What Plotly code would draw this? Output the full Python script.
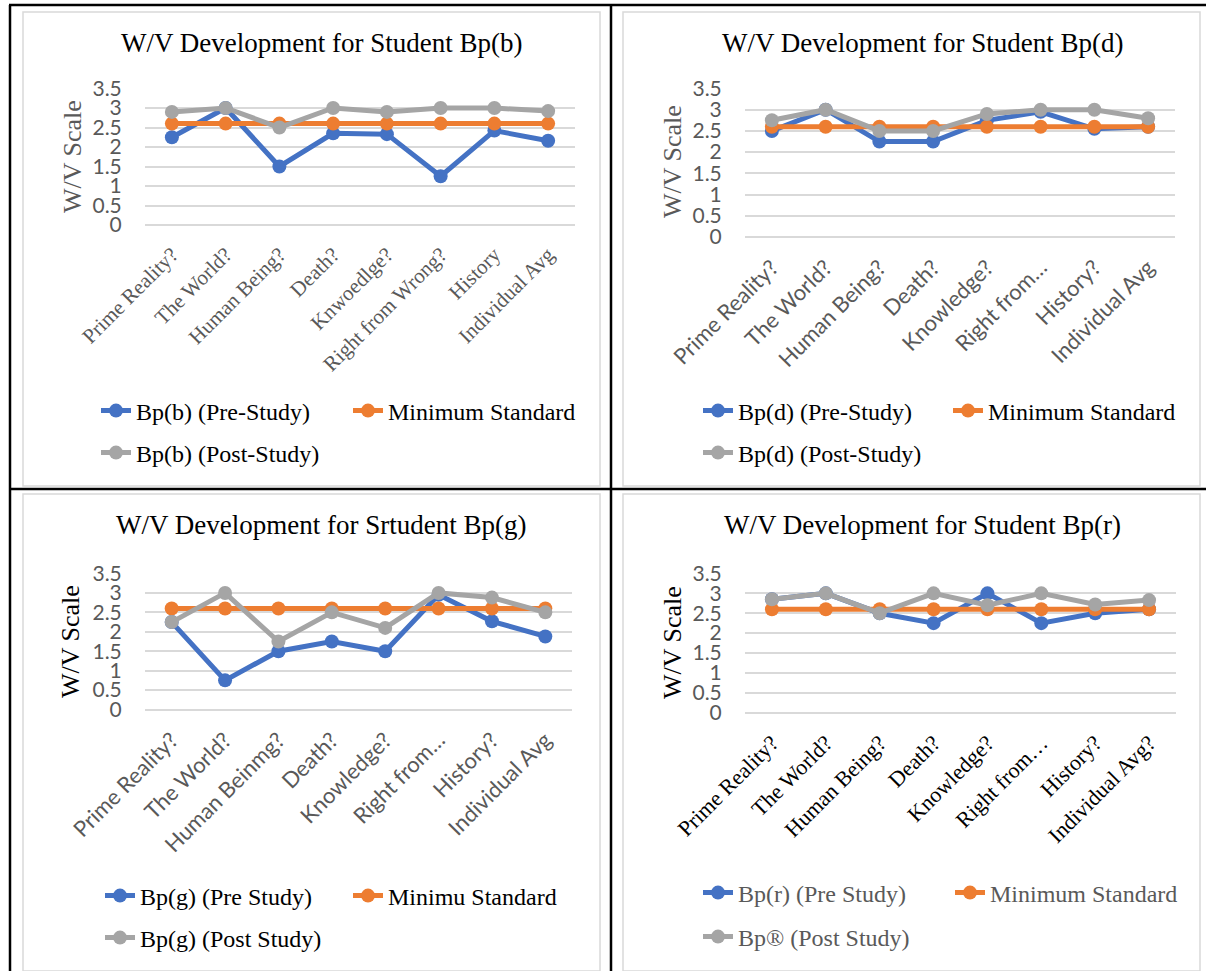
import plotly.graph_objects as go

# ---------------- data ----------------
cats_b = ["Prime Reality?", "The World?", "Human Being?", "Death?", "Knwoedlge?",
          "Right from Wrong?", "History", "Individual Avg"]
pre_b = [2.25, 3.0, 1.5, 2.35, 2.33, 1.25, 2.42, 2.16]
min_b = [2.6, 2.6, 2.6, 2.6, 2.6, 2.6, 2.6, 2.6]
post_b = [2.9, 3.0, 2.5, 3.0, 2.9, 3.0, 3.0, 2.92]

cats_d = ["Prime Reality?", "The World?", "Human Being?", "Death?", "Knowledge?",
          "Right from…", "History?", "Individual Avg"]
pre_d = [2.5, 3.0, 2.25, 2.25, 2.75, 2.95, 2.55, 2.6]
min_d = [2.6, 2.6, 2.6, 2.6, 2.6, 2.6, 2.6, 2.6]
post_d = [2.75, 3.0, 2.5, 2.5, 2.9, 3.0, 3.0, 2.8]

cats_g = ["Prime Reality?", "The World?", "Human Beinmg?", "Death?", "Knowledge?",
          "Right from…", "History?", "Individual Avg"]
pre_g = [2.25, 0.75, 1.5, 1.75, 1.5, 2.95, 2.27, 1.88]
min_g = [2.6, 2.6, 2.6, 2.6, 2.6, 2.6, 2.6, 2.6]
post_g = [2.25, 3.0, 1.75, 2.5, 2.1, 3.0, 2.88, 2.5]

cats_r = ["Prime Reality?", "The World?", "Human Being?", "Death?", "Knowledge?",
          "Right from…", "History?", "Individual Avg?"]
pre_r = [2.85, 3.0, 2.5, 2.25, 3.0, 2.25, 2.5, 2.6]
min_r = [2.6, 2.6, 2.6, 2.6, 2.6, 2.6, 2.6, 2.6]
post_r = [2.85, 3.0, 2.5, 3.0, 2.7, 3.0, 2.72, 2.83]

titles = ["W/V Development for Student Bp(b)", "W/V Development for Student Bp(d)",
          "W/V Development for Srtudent Bp(g)", "W/V Development for Student Bp(r)"]
names = [
    ["Bp(b) (Pre-Study)", "Minimum Standard", "Bp(b) (Post-Study)"],
    ["Bp(d) (Pre-Study)", "Minimum Standard", "Bp(d) (Post-Study)"],
    ["Bp(g) (Pre Study)", "Minimu Standard", "Bp(g) (Post Study)"],
    ["Bp(r) (Pre Study)", "Minimum Standard", "Bp® (Post Study)"],
]
y_ticks = [0, 0.5, 1, 1.5, 2, 2.5, 3, 3.5]

# ---------------- styling ----------------
W, H = 1206, 971
BLUE, ORANGE, GRAY = "#4472C4", "#ED7D31", "#A5A5A5"
GRID = "#D9D9D9"
SERIF = "Liberation Serif, Times New Roman, serif"
SANS = "Lato, Open Sans, sans-serif"
DARK = "#595959"
CLEAR = "rgba(0,0,0,0)"


def fx(p):
    return p / W


def fy(p):
    return 1 - p / H


charts = [
    dict(cats=cats_b, series=[pre_b, min_b, post_b], box=(145, 575, 88.5, 225),
         title_xy=(321, 43), ytitle_xy=(72, 157), ytitle_color=DARK,
         xfont=dict(family=SERIF, size=21, color=DARK),
         leg=[(96, 411), (348, 411), (96, 453)], legcolor="#000000"),
    dict(cats=cats_d, series=[pre_d, min_d, post_d], box=(745, 1175, 88.5, 237),
         title_xy=(922, 43), ytitle_xy=(672, 162), ytitle_color=DARK,
         xfont=dict(family=SANS, size=22, color=DARK),
         leg=[(698, 411), (948, 411), (698, 453)], legcolor="#000000"),
    dict(cats=cats_g, series=[pre_g, min_g, post_g], box=(145, 572, 573.5, 709.5),
         title_xy=(321, 525), ytitle_xy=(70, 642), ytitle_color="#000000",
         xfont=dict(family=SANS, size=22, color=DARK),
         leg=[(100, 896), (348, 896), (100, 938)], legcolor="#000000"),
    dict(cats=cats_r, series=[pre_r, min_r, post_r], box=(745, 1176, 573.5, 712.5),
         title_xy=(922, 525), ytitle_xy=(672, 643), ytitle_color="#000000",
         xfont=dict(family=SERIF, size=22, color="#000000"),
         leg=[(698, 893), (950, 893), (698, 937)], legcolor=DARK),
]

fig = go.Figure()
annotations = []
layout_extra = {}
colors = [BLUE, ORANGE, GRAY]
leg_idx = 0
for i, ch in enumerate(charts):
    n = "" if i == 0 else str(i + 1)
    xa, ya = "x" + n, "y" + n
    x0, x1, y0, y1 = ch["box"]
    layout_extra["xaxis" + n] = dict(
        domain=[fx(x0), fx(x1)], anchor=ya, type="category",
        categoryorder="array", categoryarray=ch["cats"],
        range=[-0.5, len(ch["cats"]) - 0.5], tickangle=-45,
        showgrid=False, zeroline=False, showline=False,
        ticks="outside", ticklen=8, tickcolor=CLEAR,
        tickfont=ch["xfont"], automargin=False,
    )
    layout_extra["yaxis" + n] = dict(
        domain=[fy(y1), fy(y0)], anchor=xa, range=[0, 3.5],
        tickvals=y_ticks, showgrid=True, gridcolor=GRID, gridwidth=1.8,
        zeroline=True, zerolinecolor=GRID, zerolinewidth=1.8, showline=False,
        ticks="outside", ticklen=18, tickcolor=CLEAR,
        tickfont=dict(family=SANS, size=21, color=DARK), automargin=False,
    )
    for k in range(3):
        leg_idx += 1
        lname = "legend" if leg_idx == 1 else "legend" + str(leg_idx)
        fig.add_trace(go.Scatter(
            x=ch["cats"], y=ch["series"][k], name=names[i][k], mode="lines+markers",
            line=dict(color=colors[k], width=5),
            marker=dict(color=colors[k], size=14),
            xaxis=xa, yaxis=ya, legend=lname, cliponaxis=False,
        ))
        lx, ly = ch["leg"][k]
        layout_extra[lname] = dict(
            x=fx(lx), y=fy(ly), xanchor="left", yanchor="middle",
            orientation="h", bgcolor=CLEAR, borderwidth=0,
            font=dict(family=SERIF, size=24, color=ch["legcolor"]),
        )
    tx, ty = ch["title_xy"]
    annotations.append(dict(
        text=titles[i], x=fx(tx), y=fy(ty), xref="paper", yref="paper",
        xanchor="center", yanchor="middle", showarrow=False,
        font=dict(family=SERIF, size=27, color="#000000"),
    ))
    ax, ay = ch["ytitle_xy"]
    annotations.append(dict(
        text="W/V Scale", x=fx(ax), y=fy(ay), xref="paper", yref="paper",
        xanchor="center", yanchor="middle", showarrow=False, textangle=-90,
        font=dict(family=SERIF, size=26, color=ch["ytitle_color"]),
    ))

# table borders and chart frames
shapes = []
black = dict(color="#000000", width=2.5)
for (a, b, c, d) in [(9, 5, 1206, 5), (10, 5, 10, 971), (611, 5, 611, 971), (9, 489, 1206, 489)]:
    shapes.append(dict(type="line", xref="paper", yref="paper",
                       x0=fx(a), y0=fy(b), x1=fx(c), y1=fy(d), line=black))
frame = dict(color=GRID, width=1.5)
for (a, b, c, d) in [(23, 12, 600, 486), (623, 12, 1200, 486),
                     (23, 494, 600, 971), (623, 494, 1200, 971)]:
    shapes.append(dict(type="rect", xref="paper", yref="paper",
                       x0=fx(a), y0=fy(b), x1=fx(c), y1=fy(d), line=frame,
                       fillcolor=CLEAR, layer="below"))

fig.update_layout(
    template="none",
    width=W, height=H, margin=dict(l=0, r=0, t=0, b=0, autoexpand=False),
    paper_bgcolor="white", plot_bgcolor="white",
    showlegend=True, annotations=annotations, shapes=shapes,
    **layout_extra,
)

fig.write_html(
    "out.html",
    config={"displayModeBar": False},
    post_script="document.body.style.margin='0';document.body.style.overflow='hidden';",
)
